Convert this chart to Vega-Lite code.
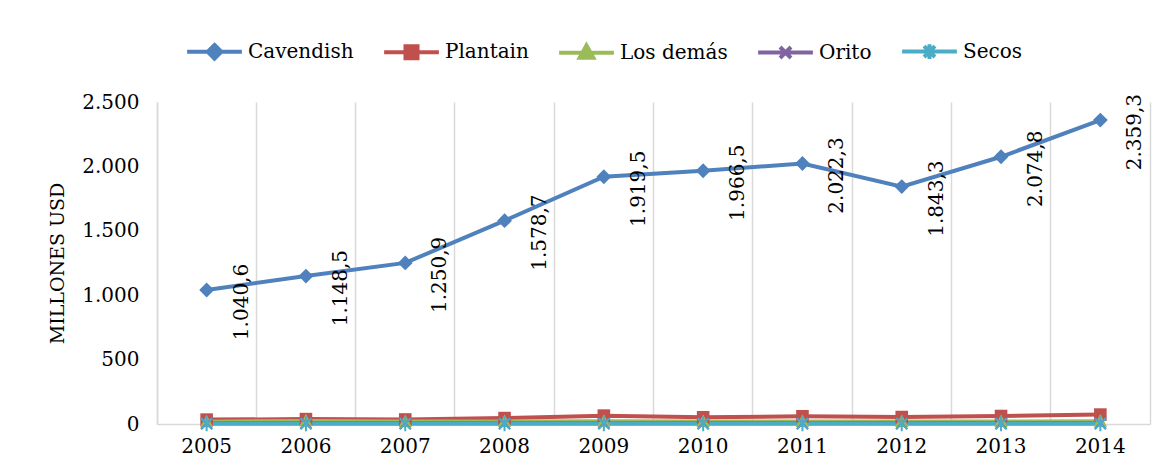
{
  "$schema": "https://vega.github.io/schema/vega-lite/v6.json",
  "autosize": "none",
  "width": 993,
  "height": 322,
  "padding": {"left": 157, "top": 102, "right": 18, "bottom": 49},
  "background": "white",
  "config": {
    "locale": {"number": {"decimal": ",", "thousands": ".", "grouping": [3], "currency": ["", ""]}},
    "font": "DejaVu Serif",
    "view": {"stroke": null}
  },
  "data": {
    "values": [
      {"year": "2005", "series": "Cavendish", "value": 1040.6},
      {"year": "2006", "series": "Cavendish", "value": 1148.5},
      {"year": "2007", "series": "Cavendish", "value": 1250.9},
      {"year": "2008", "series": "Cavendish", "value": 1578.7},
      {"year": "2009", "series": "Cavendish", "value": 1919.5},
      {"year": "2010", "series": "Cavendish", "value": 1966.5},
      {"year": "2011", "series": "Cavendish", "value": 2022.3},
      {"year": "2012", "series": "Cavendish", "value": 1843.3},
      {"year": "2013", "series": "Cavendish", "value": 2074.8},
      {"year": "2014", "series": "Cavendish", "value": 2359.3},
      {"year": "2005", "series": "Plantain", "value": 34},
      {"year": "2006", "series": "Plantain", "value": 38},
      {"year": "2007", "series": "Plantain", "value": 35},
      {"year": "2008", "series": "Plantain", "value": 46},
      {"year": "2009", "series": "Plantain", "value": 65},
      {"year": "2010", "series": "Plantain", "value": 52},
      {"year": "2011", "series": "Plantain", "value": 60},
      {"year": "2012", "series": "Plantain", "value": 54},
      {"year": "2013", "series": "Plantain", "value": 62},
      {"year": "2014", "series": "Plantain", "value": 73},
      {"year": "2005", "series": "Los demás", "value": 18},
      {"year": "2006", "series": "Los demás", "value": 24},
      {"year": "2007", "series": "Los demás", "value": 20},
      {"year": "2008", "series": "Los demás", "value": 20},
      {"year": "2009", "series": "Los demás", "value": 21},
      {"year": "2010", "series": "Los demás", "value": 19},
      {"year": "2011", "series": "Los demás", "value": 20},
      {"year": "2012", "series": "Los demás", "value": 19},
      {"year": "2013", "series": "Los demás", "value": 20},
      {"year": "2014", "series": "Los demás", "value": 22},
      {"year": "2005", "series": "Orito", "value": 5},
      {"year": "2006", "series": "Orito", "value": 6},
      {"year": "2007", "series": "Orito", "value": 5},
      {"year": "2008", "series": "Orito", "value": 5},
      {"year": "2009", "series": "Orito", "value": 6},
      {"year": "2010", "series": "Orito", "value": 5},
      {"year": "2011", "series": "Orito", "value": 5},
      {"year": "2012", "series": "Orito", "value": 5},
      {"year": "2013", "series": "Orito", "value": 5},
      {"year": "2014", "series": "Orito", "value": 6},
      {"year": "2005", "series": "Secos", "value": 2},
      {"year": "2006", "series": "Secos", "value": 2},
      {"year": "2007", "series": "Secos", "value": 2},
      {"year": "2008", "series": "Secos", "value": 2},
      {"year": "2009", "series": "Secos", "value": 2},
      {"year": "2010", "series": "Secos", "value": 2},
      {"year": "2011", "series": "Secos", "value": 2},
      {"year": "2012", "series": "Secos", "value": 2},
      {"year": "2013", "series": "Secos", "value": 2},
      {"year": "2014", "series": "Secos", "value": 2}
    ]
  },
  "encoding": {
    "x": {
      "field": "year", "type": "ordinal",
      "scale": {"paddingInner": 0, "paddingOuter": 0},
      "axis": {
        "title": null, "labelAngle": 0, "labelFont": "DejaVu Serif", "labelFontSize": 20,
        "labelColor": "#000000", "labelPadding": 12, "ticks": false,
        "grid": true, "bandPosition": 0, "gridColor": "#d9d9d9", "gridWidth": 1.5,
        "domainColor": "#d9d9d9", "domainWidth": 1.5
      }
    }
  },
  "layer": [
    {
      "encoding": {
        "y": {
          "field": "value", "type": "quantitative",
          "scale": {"domain": [0, 2500]},
          "axis": {
            "values": [0, 500, 1000, 1500, 2000, 2500], "format": ",d",
            "title": "MILLONES USD", "titleFont": "DejaVu Serif", "titleFontSize": 19,
            "titleFontWeight": "normal", "titleColor": "#000000", "titlePadding": 14,
            "labelFont": "DejaVu Serif", "labelFontSize": 20, "labelColor": "#000000",
            "labelPadding": 18, "ticks": false, "grid": false,
            "domainColor": "#d9d9d9", "domainWidth": 1.5
          }
        },
        "color": {
          "field": "series", "type": "nominal",
          "scale": {
            "domain": ["Cavendish", "Plantain", "Los demás", "Orito", "Secos"],
            "range": ["#4f81bd", "#c0504d", "#9bbb59", "#8064a2", "#4bacc6"]
          },
          "legend": {
            "orient": "none", "legendX": 28, "legendY": -80, "direction": "horizontal",
            "title": null, "labelFont": "DejaVu Serif", "labelFontSize": 20, "labelColor": "#000000",
            "symbolSize": 3000, "symbolStrokeWidth": 4, "columnPadding": 22, "labelOffset": 4,
            "encode": {
              "symbols": {
                "update": {
                  "shape": {"signal": "datum.value === 'Cavendish' ? 'M-1,0H1M0,-0.25L0.25,0L0,0.25L-0.25,0Z' : datum.value === 'Plantain' ? 'M-1,0H1M-0.22,-0.22H0.22V0.22H-0.22Z' : datum.value === 'Los demás' ? 'M-1,0H1M0,-0.27L0.25,0.18H-0.25Z' : datum.value === 'Orito' ? 'M-1,0H1M-0.2,-0.2L0.2,0.2M-0.2,0.2L0.2,-0.2' : 'M-1,0H1M-0.2,-0.2L0.2,0.2M-0.2,0.2L0.2,-0.2M0,-0.27V0.27'"},
                  "fill": {"scale": "color", "field": "value"},
                  "stroke": {"scale": "color", "field": "value"},
                  "strokeWidth": {"value": 4},
                  "opacity": {"value": 1}
                }
              }
            }
          }
        }
      },
      "layer": [
        {"mark": {"type": "line", "strokeWidth": 4}},
        {
          "transform": [{"filter": "datum.series === 'Cavendish'"}],
          "mark": {"type": "point", "filled": true, "size": 220, "strokeWidth": 1.5, "opacity": 1, "shape": "M0,-1L1,0L0,1L-1,0Z"},
          "encoding": {"color": {"field": "series", "type": "nominal", "legend": null}}
        },
        {
          "transform": [{"filter": "datum.series === 'Plantain'"}],
          "mark": {"type": "point", "filled": true, "size": 220, "strokeWidth": 1.5, "opacity": 1, "shape": "M-0.85,-0.85H0.85V0.85H-0.85Z"},
          "encoding": {"color": {"field": "series", "type": "nominal", "legend": null}}
        },
        {
          "transform": [{"filter": "datum.series === 'Los demás'"}],
          "mark": {"type": "point", "filled": true, "size": 220, "strokeWidth": 1.5, "opacity": 1, "shape": "M0,-0.95L0.9,0.75H-0.9Z"},
          "encoding": {"color": {"field": "series", "type": "nominal", "legend": null}}
        },
        {
          "transform": [{"filter": "datum.series === 'Orito'"}],
          "mark": {"type": "point", "filled": false, "size": 220, "strokeWidth": 2, "opacity": 1, "shape": "M-0.75,-0.75L0.75,0.75M-0.75,0.75L0.75,-0.75"},
          "encoding": {"color": {"field": "series", "type": "nominal", "legend": null}}
        },
        {
          "transform": [{"filter": "datum.series === 'Secos'"}],
          "mark": {"type": "point", "filled": false, "size": 220, "strokeWidth": 2, "opacity": 1, "shape": "M-0.75,-0.75L0.75,0.75M-0.75,0.75L0.75,-0.75M0,-1V1"},
          "encoding": {"color": {"field": "series", "type": "nominal", "legend": null}}
        },
        {
          "transform": [{"filter": "datum.series === 'Cavendish'"}],
          "mark": {"type": "text", "angle": 270, "font": "DejaVu Serif", "fontSize": 20, "align": "center", "baseline": "middle", "dx": -12, "dy": 35},
          "encoding": {
            "color": {"value": "#000000"},
            "text": {"field": "value", "type": "quantitative", "format": ",.1f"}
          }
        }
      ]
    },
    {
      "mark": {"type": "rule", "opacity": 0},
      "encoding": {
        "y": {
          "field": "value", "type": "quantitative",
          "scale": {"domain": [0, 2500]},
          "axis": {"orient": "right", "labels": false, "ticks": false, "grid": false, "title": null, "domainColor": "#d9d9d9", "domainWidth": 1.5}
        }
      }
    }
  ],
  "resolve": {"axis": {"y": "independent"}}
}
